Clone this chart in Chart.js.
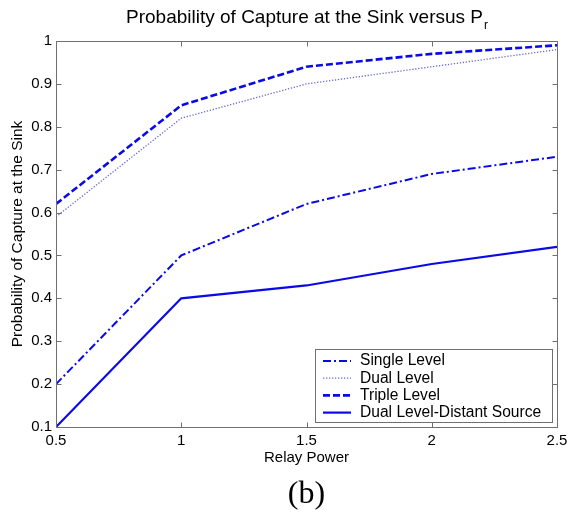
<!DOCTYPE html>
<html>
<head>
<meta charset="utf-8">
<script src="https://cdn.jsdelivr.net/npm/chart.js@4.4.1/dist/chart.umd.min.js"></script>
<style>
  html, body { margin: 0; padding: 0; background: #fff; }
  #wrap { width: 568px; height: 516px; }
</style>
</head>
<body>
<div id="wrap"><canvas id="myChart" width="568" height="516"></canvas></div>
<script>
// values
const relayPower = [0.5, 1, 1.5, 2, 2.5];
const singleLevel = [0.20, 0.50, 0.62, 0.69, 0.73];
const dualLevel = [0.59, 0.82, 0.90, 0.94, 0.98];
const tripleLevel = [0.62, 0.85, 0.94, 0.97, 0.99];
const distantSource = [0.10, 0.40, 0.43, 0.48, 0.52];
const seriesNames = ["Single Level", "Dual Level", "Triple Level", "Dual Level-Distant Source"];
const xTicks = [0.5, 1, 1.5, 2, 2.5];
const yTicks = [0.1, 0.2, 0.3, 0.4, 0.5, 0.6, 0.7, 0.8, 0.9, 1];

const FONT = "'Liberation Sans', Arial, sans-serif";
const frameColor = "#707070";

function pts(ys) {
  return relayPower.map((x, i) => ({ x: x, y: ys[i] }));
}

// matlab-ish frame, inner ticks, title, legend and the (b) caption
const matlabLook = {
  id: "matlabLook",
  afterDraw(chart) {
    const ctx = chart.ctx;
    const a = chart.chartArea;
    const xs = chart.scales.x, ys = chart.scales.y;
    const L = Math.round(a.left) + 0.5, R = Math.round(a.right) + 0.5;
    const T = Math.round(a.top) + 0.5, B = Math.round(a.bottom) + 0.5;
    ctx.save();
    ctx.strokeStyle = frameColor;
    ctx.lineWidth = 1;
    ctx.setLineDash([]);
    ctx.strokeRect(L, T, R - L, B - T);
    ctx.beginPath();
    xTicks.forEach(v => {
      const px = Math.round(xs.getPixelForValue(v)) + 0.5;
      ctx.moveTo(px, B); ctx.lineTo(px, B - 5);
      ctx.moveTo(px, T); ctx.lineTo(px, T + 5);
    });
    yTicks.forEach(v => {
      const py = Math.round(ys.getPixelForValue(v)) + 0.5;
      ctx.moveTo(L, py); ctx.lineTo(L + 5, py);
      ctx.moveTo(R, py); ctx.lineTo(R - 5, py);
    });
    ctx.stroke();

    // title with subscript r
    const cx = (a.left + a.right) / 2;
    const main = "Probability of Capture at the Sink versus P";
    ctx.fillStyle = "#000";
    ctx.font = "19px " + FONT;
    const w1 = ctx.measureText(main).width;
    ctx.font = "12px " + FONT;
    const w2 = ctx.measureText("r").width;
    const x0 = cx - (w1 + w2) / 2;
    ctx.textBaseline = "alphabetic";
    ctx.textAlign = "left";
    ctx.font = "19px " + FONT;
    ctx.fillText(main, x0, 23);
    ctx.font = "12px " + FONT;
    ctx.fillText("r", x0 + w1 + 1, 29);

    // legend box, lower right inside the axes
    const lx = 315.5, ly = 349.5, lw = 237, lh = 73;
    ctx.fillStyle = "#fff";
    ctx.fillRect(lx, ly, lw, lh);
    ctx.strokeStyle = frameColor;
    ctx.strokeRect(lx, ly, lw, lh);
    chart.data.datasets.forEach((ds, i) => {
      const yy = 361 + i * 17.2;
      ctx.beginPath();
      ctx.strokeStyle = ds.borderColor;
      ctx.lineWidth = ds.borderWidth;
      ctx.setLineDash(ds.borderDash || []);
      ctx.moveTo(323, yy);
      ctx.lineTo(351, yy);
      ctx.stroke();
      ctx.setLineDash([]);
      ctx.fillStyle = "#000";
      ctx.font = "15.6px " + FONT;
      ctx.textBaseline = "middle";
      ctx.fillText(ds.label, 360, yy);
    });

    // caption
    ctx.font = "32px 'Liberation Serif', 'Times New Roman', serif";
    ctx.textAlign = "center";
    ctx.textBaseline = "middle";
    ctx.fillStyle = "#000";
    ctx.fillText("(b)", cx, 495);
    ctx.restore();
  }
};

const graph = new Chart("myChart", {
  type: "line",
  data: {
    datasets: [
      { label: seriesNames[0], data: pts(singleLevel), borderColor: "#0a0ae6", borderWidth: 2, borderDash: [8, 3, 2, 3] },
      { label: seriesNames[1], data: pts(dualLevel), borderColor: "#6a6ad0", borderWidth: 1.3, borderDash: [1.3, 1.7] },
      { label: seriesNames[2], data: pts(tripleLevel), borderColor: "#0a0ae6", borderWidth: 2.6, borderDash: [7, 3] },
      { label: seriesNames[3], data: pts(distantSource), borderColor: "#0a0ae6", borderWidth: 2.2 }
    ]
  },
  options: {
    responsive: false,
    animation: false,
    devicePixelRatio: 1,
    layout: { padding: { left: 0, right: 11, top: 41, bottom: 0 } },
    elements: { point: { radius: 0 }, line: { tension: 0, fill: false } },
    plugins: {
      legend: { display: false },
      title: { display: false },
      tooltip: { enabled: false }
    },
    scales: {
      x: {
        type: "linear",
        min: 0.5, max: 2.5,
        grid: { display: false, drawTicks: false },
        border: { display: false },
        afterBuildTicks: s => { s.ticks = xTicks.map(v => ({ value: v })); },
        afterFit: s => { s.height = 89; s.paddingLeft = 0; s.paddingRight = 0; },
        ticks: {
          padding: 5,
          color: "#000",
          font: { family: FONT, size: 15 },
          maxRotation: 0,
          callback: v => String(v)
        },
        title: {
          display: true,
          text: "Relay Power",
          color: "#000",
          font: { family: FONT, size: 15 },
          padding: { top: 0, bottom: 49 }
        }
      },
      y: {
        type: "linear",
        min: 0.1, max: 1,
        grid: { display: false, drawTicks: false },
        border: { display: false },
        afterBuildTicks: s => { s.ticks = yTicks.map(v => ({ value: v })); },
        afterFit: s => { s.width = 56; s.paddingTop = 0; s.paddingBottom = 0; },
        ticks: {
          padding: 4,
          color: "#000",
          font: { family: FONT, size: 15 },
          callback: v => (v === 1 ? "1" : v.toFixed(1))
        },
        title: {
          display: true,
          text: "Probability of Capture at the Sink",
          color: "#000",
          font: { family: FONT, size: 15.5 },
          padding: { top: 8, bottom: 0 }
        }
      }
    }
  },
  plugins: [matlabLook]
});
</script>
</body>
</html>
